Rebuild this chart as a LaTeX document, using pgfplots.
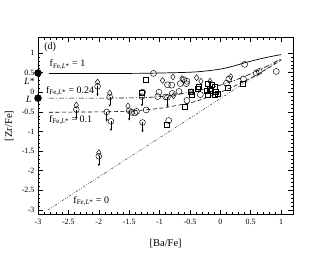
\documentclass[border=0pt]{standalone}
\usepackage{fontspec}
\setmainfont{Liberation Serif}
\usepackage{pgfplots}
\pgfplotsset{compat=1.18}
\usetikzlibrary{arrows.meta}
\begin{document}
\begin{tikzpicture}[x=1pt,y=1pt]
\useasboundingbox (0,0) rectangle (330,255);
\begin{axis}[
  at={(38pt,40.3pt)}, anchor=south west,
  scale only axis, width=255.3pt, height=177.4pt,
  xmin=-3, xmax=1.2, ymin=-3.12, ymax=1.4,
  xtick={-3,-2.5,-2,-1.5,-1,-0.5,0,0.5,1},
  ytick={-3,-2.5,-2,-1.5,-1,-0.5,0,0.5,1},
  minor x tick num=4, minor y tick num=4,
  tick align=inside, major tick length=5pt, minor tick length=2.5pt,
  xtick pos=both, ytick pos=both,
  /pgf/number format/assume math mode=true,
  tick label style={font=\fontsize{8}{9}\selectfont},
  xticklabel style={yshift=-1pt},
  label style={font=\fontsize{10.5}{12}\selectfont},
  xlabel={[Ba/Fe]}, ylabel={[Zr/Fe]},
  xlabel style={at={(axis description cs:0.5,-0.16)},anchor=center},
  ylabel style={at={(axis description cs:-0.113,0.5)},anchor=center},
  axis line style={line width=0.7pt},
  every tick/.style={black, line width=0.5pt},
  clip=false,
]
% model lines
\addplot[black, line width=0.7pt, smooth] coordinates {
(-2.82,0.48) (-1.5,0.48) (-1,0.49) (-0.5,0.51) (-0.25,0.54) (0,0.59) (0.2,0.66) (0.4,0.75) (0.6,0.83) (0.8,0.90) (1.0,0.96)};
\addplot[black, line width=0.6pt, smooth, dash pattern=on 5pt off 2pt on 1pt off 2pt] coordinates {
(-2.82,-0.15) (-1.5,-0.145) (-1,-0.11) (-0.5,0.0) (-0.25,0.09) (0,0.18) (0.25,0.31) (0.5,0.47) (0.75,0.65) (1.0,0.85)};
\addplot[black, line width=0.6pt, smooth, dash pattern=on 4pt off 2.5pt] coordinates {
(-2.82,-0.51) (-2,-0.50) (-1.5,-0.48) (-1,-0.41) (-0.5,-0.27) (-0.25,-0.15) (0,0.0) (0.25,0.17) (0.5,0.36) (0.75,0.58) (1.0,0.82)};
\addplot[black!80, line width=0.5pt, dash pattern=on 2.5pt off 1.5pt on 0.7pt off 1.5pt on 0.7pt off 1.5pt] coordinates {
(-2.84,-3.0) (1.0,0.84)};
% upper limit arrows
\addplot[black, line width=0.45pt, no marks, quiver={u=0,v=-0.25}, -{Stealth[length=2.5pt,width=2.2pt]}] table {
x y
-2.02 0.15
-1.82 -0.12
-2.37 -0.44
-1.87 -0.50
-1.80 -0.74
-1.50 -0.47
-1.28 -0.77
-2.00 -1.63
-1.29 -0.11
-0.87 -0.13
};
% upper limit circles
\addplot[only marks, mark=o, mark size=2.9pt, mark options={fill=white, line width=0.45pt}] table {
x y
-2.02 0.15
-1.82 -0.12
-2.37 -0.44
-1.87 -0.50
-1.80 -0.74
-1.50 -0.47
-1.28 -0.77
-2.00 -1.63
-1.29 -0.11
-0.87 -0.13
};
% circles
\addplot[only marks, mark=o, mark size=3.0pt, mark options={line width=0.45pt}] table {
x y
-1.10 0.48
0.40 0.71
0.92 0.53
0.59 0.49
0.64 0.53
0.38 0.34
0.14 0.34
0.10 0.23
-0.87 0.19
-0.80 0.18
-0.66 0.22
-0.55 0.28
-0.56 0.22
-0.60 0.32
-1.28 0.00
-1.01 0.00
-1.03 -0.11
-0.90 -0.12
-0.79 -0.03
-0.68 0.02
-0.33 -0.06
-0.55 -0.21
-1.46 -0.51
-1.41 -0.53
-1.38 -0.49
-1.22 -0.45
-0.85 -0.72
};
% squares
\addplot[only marks, mark=square, mark size=2.5pt, mark options={line width=0.45pt}] table {
x y
-1.22 0.33
-0.35 0.15
-0.20 0.21
-0.14 0.20
-0.09 0.15
-0.18 0.10
-0.23 0.03
-0.16 0.05
-0.07 0.02
-0.21 -0.06
-0.10 -0.06
-0.04 -0.04
-0.48 0.02
-0.47 -0.07
-0.59 -0.36
-0.88 -0.82
0.37 0.21
0.12 0.11
-1.30 0.00
-0.38 0.08
};
% diamonds
\addplot[only marks, mark=diamond, mark size=3.0pt, mark options={line width=0.45pt}] table {
x y
-0.95 0.30
-0.78 0.39
-0.63 0.35
-0.39 0.37
-0.32 0.28
-0.17 0.28
0.17 0.40
-0.77 -0.09
-0.48 0.01
-1.52 -0.35
-2.02 0.26
-1.82 -0.02
-2.37 -0.33
-2.00 -1.54
};
% L points
\addplot[only marks, mark=*, mark size=3.5pt, black] coordinates {(-3,0.49) (-3,-0.15)};
% annotations
\node[anchor=base west, font=\fontsize{10}{12}\selectfont, inner sep=0pt] at (axis cs:-2.90,1.10) {(d)};
\node[anchor=base west, font=\fontsize{10}{12}\selectfont, inner sep=0pt] at (axis cs:-2.81,0.65) {f\textsubscript{Fe,\textit{L}*} = 1};
\node[anchor=base west, font=\fontsize{10}{12}\selectfont, inner sep=0pt] at (axis cs:-2.87,-0.03) {f\textsubscript{Fe,\textit{L}*} = 0.24};
\node[anchor=base west, font=\fontsize{10}{12}\selectfont, inner sep=0pt] at (axis cs:-2.82,-0.77) {f\textsubscript{Fe,\textit{L}*} = 0.1};
\node[anchor=base west, font=\fontsize{10}{12}\selectfont, inner sep=0pt] at (axis cs:-2.42,-2.83) {f\textsubscript{Fe,\textit{L}*} = 0};
\node[anchor=center, font=\fontsize{9.5}{11}\selectfont, inner sep=0pt] at (axis cs:-3.14,0.27) {\textit{L}*};
\node[anchor=center, font=\fontsize{9.5}{11}\selectfont, inner sep=0pt] at (axis cs:-3.15,-0.19) {\textit{L}};
\end{axis}
\end{tikzpicture}
\end{document}
